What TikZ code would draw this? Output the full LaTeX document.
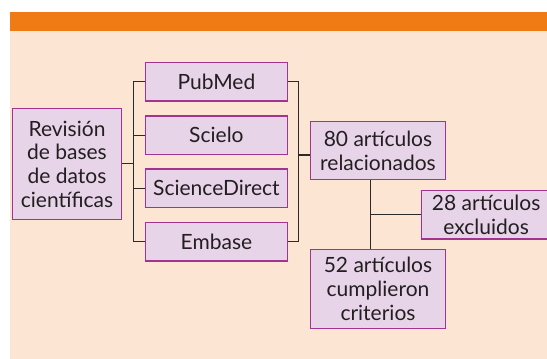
\documentclass[tikz,border=0pt]{standalone}
\usepackage{fontspec}
\setmainfont{Lato}
\definecolor{bgpeach}{HTML}{FDE5D3}
\definecolor{barorange}{HTML}{F07A14}
\definecolor{boxfill}{HTML}{E7D4E8}
\definecolor{boxdraw}{HTML}{A2338F}
\definecolor{txt}{HTML}{231F20}
\definecolor{lin}{HTML}{2A2A2A}
\tikzset{
  box/.style={draw=boxdraw, fill=boxfill, line width=1.4pt, inner sep=0pt, align=center,
    text=txt, font=\fontsize{21}{23.7}\selectfont, anchor=center},
  conn/.style={draw=lin, line width=1.2pt}
}
\begin{document}
\begin{tikzpicture}[x=1pt,y=-1pt]
\useasboundingbox (0,0) rectangle (547,359);
\fill[white] (0,0) rectangle (547,359);
\fill[bgpeach] (10,31) rectangle (547,359);
\fill[barorange] (10,12.3) rectangle (547,31);

% nodes
\node[box, minimum width=109.5pt, minimum height=110.5pt] (rev) at (67,164) {Revisión\\de bases\\de datos\\científicas};
\node[box, minimum width=142pt, minimum height=38.3pt] (pub) at (216.4,81.8) {PubMed};
\node[box, minimum width=142pt, minimum height=38.3pt] (sci) at (216.4,135.3) {Scielo};
\node[box, minimum width=142pt, minimum height=38.3pt] (sd) at (216.4,188.3) {ScienceDirect};
\node[box, minimum width=142pt, minimum height=38.3pt] (emb) at (216.4,241.8) {Embase};
\node[box, minimum width=134.6pt, minimum height=57.6pt] (rel) at (378,150.5) {80 artículos\\relacionados};
\node[box, minimum width=134.6pt, minimum height=79.4pt] (crit) at (378,289) {52 artículos\\cumplieron\\criterios};
\node[box, minimum width=129pt, minimum height=48.7pt] (exc) at (486.2,214.7) {28 artículos\\excluidos};

% trunk coordinates
\coordinate (lt1) at (133.3,81.8);
\coordinate (lt2) at (133.3,241.8);
\coordinate (lj) at (133.3,163.3);
\coordinate (rt1) at (298.7,81.8);
\coordinate (rt2) at (298.7,241.8);
\coordinate (rj) at (298.7,155);
\coordinate (vt) at (370.3,179.3);
\coordinate (vb) at (370.3,249.3);
\coordinate (vj) at (370.3,214.7);

% left connectors
\draw[conn] (pub.west) -- (lt1) -- (lt2) -- (emb.west);
\draw[conn] (sci.west) -- (sci.west -| lt1);
\draw[conn] (sd.west) -- (sd.west -| lt1);
\draw[conn] (rev.east |- lj) -- (lj);
% right connectors
\draw[conn] (pub.east) -- (rt1) -- (rt2) -- (emb.east);
\draw[conn] (rj) -- (rel.west |- rj);
% lower connectors
\draw[conn] (rel.south -| vt) -- (crit.north -| vb);
\draw[conn] (vj) -- (exc.west |- vj);
\end{tikzpicture}
\end{document}
